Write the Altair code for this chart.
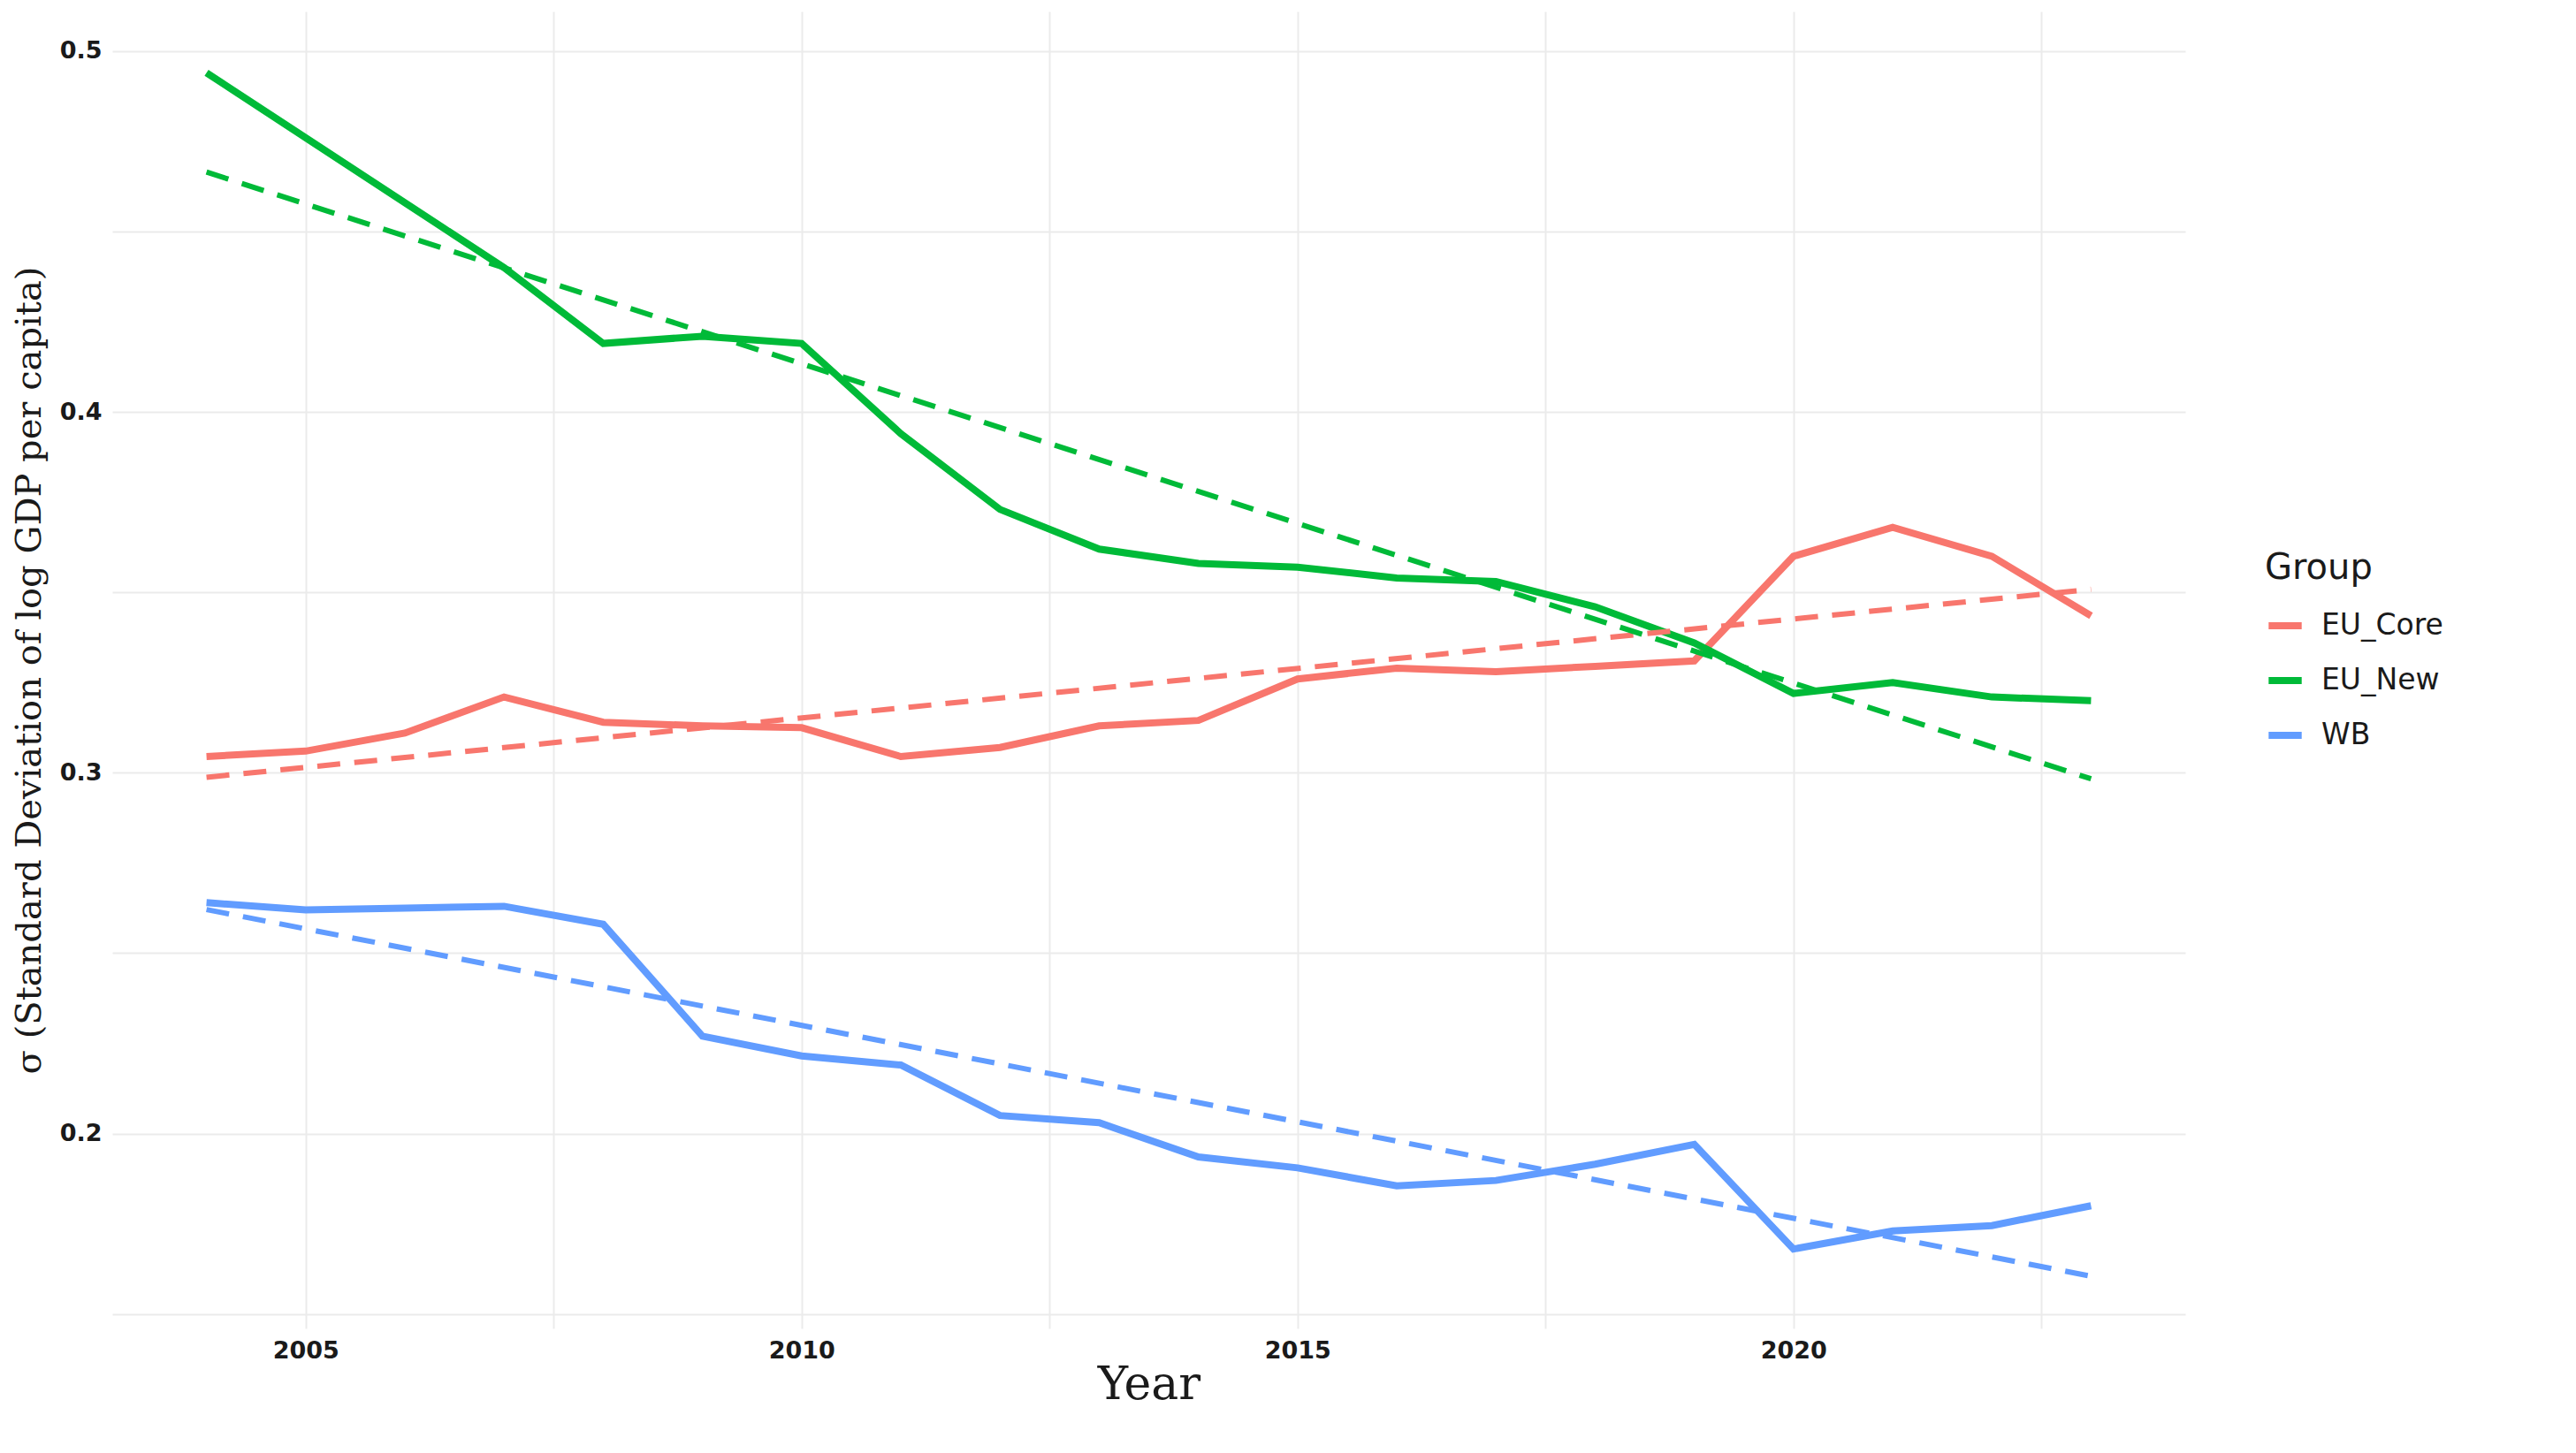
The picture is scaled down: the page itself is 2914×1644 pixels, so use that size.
import altair as alt
import pandas as pd

years = list(range(2004, 2024))
eu_core = [0.3045, 0.306, 0.311, 0.321, 0.314, 0.313, 0.3125, 0.3045, 0.307, 0.313,
           0.3145, 0.326, 0.329, 0.328, 0.3295, 0.331, 0.360, 0.368, 0.360, 0.3435]
eu_new = [0.494, 0.476, 0.458, 0.440, 0.419, 0.421, 0.419, 0.394, 0.373, 0.362,
          0.358, 0.357, 0.354, 0.353, 0.346, 0.336, 0.322, 0.325, 0.321, 0.320]
wb = [0.264, 0.262, 0.2625, 0.263, 0.258, 0.227, 0.2215, 0.219, 0.205, 0.203,
      0.1935, 0.1905, 0.1855, 0.187, 0.1915, 0.197, 0.168, 0.173, 0.1745, 0.180]
groups = ["EU_Core", "EU_New", "WB"]
colors = ["#F8766D", "#00BA38", "#619CFF"]

rows = []
for g, vals in zip(groups, [eu_core, eu_new, wb]):
    for y, v in zip(years, vals):
        rows.append({"Year": y, "sigma": v, "Group": g})
df = pd.DataFrame(rows)

x_ticks = [2002.5 + 2.5 * i for i in range(10)]
y_ticks = [0.15, 0.2, 0.25, 0.3, 0.35, 0.4, 0.45, 0.5]

x = alt.X("Year:Q", title="Year",
          scale=alt.Scale(domain=[2003.05, 2023.95], nice=False, zero=False),
          axis=alt.Axis(values=x_ticks, format="d",
                        labelExpr="datum.value % 5 == 0 ? datum.label : ''",
                        titleFont="DejaVu Serif", titleFontSize=52, titleFontWeight="normal",
                        titlePadding=0))
y = alt.Y("sigma:Q", title="σ (Standard Deviation of log GDP per capita)",
          scale=alt.Scale(domain=[0.146, 0.511], nice=False, zero=False),
          axis=alt.Axis(values=y_ticks, format=".1f",
                        labelExpr="(datum.value * 10) % 1 < 0.01 || (datum.value * 10) % 1 > 0.99 ? datum.label : ''",
                        titleFont="DejaVu Serif", titleFontSize=40, titleFontWeight="normal",
                        titlePadding=14))
color = alt.Color("Group:N", scale=alt.Scale(domain=groups, range=colors),
                  legend=alt.Legend(title="Group", symbolType="stroke", symbolStrokeWidth=8,
                                    symbolSize=1400, labelFontSize=33, titleFontSize=40,
                                    titleFontWeight="normal", labelFont="DejaVu Sans",
                                    titleFont="DejaVu Sans", orient="none",
                                    legendX=2435, legendY=610, rowPadding=22,
                                    titlePadding=22, labelOffset=18))

base = alt.Chart(df)
lines = base.mark_line(strokeWidth=8).encode(x=x, y=y, color=color)
trend = base.transform_regression("Year", "sigma", groupby=["Group"]).mark_line(
    strokeWidth=6, strokeDash=[26, 16]).encode(x=x, y=y, color=color)

chart = alt.layer(lines, trend).properties(width=2345, height=1490).configure_axis(
    grid=True, gridColor="#EBEBEB", gridWidth=2, domain=False, ticks=False,
    labelFont="DejaVu Sans", labelFontSize=27, labelFontWeight="bold", labelColor="#1a1a1a",
    labelPadding=12, titleColor="#1a1a1a"
).configure_view(stroke=None).configure_legend(labelColor="#1a1a1a", titleColor="#1a1a1a")

chart.save("out.html", embed_options={"renderer": "svg", "actions": False})
